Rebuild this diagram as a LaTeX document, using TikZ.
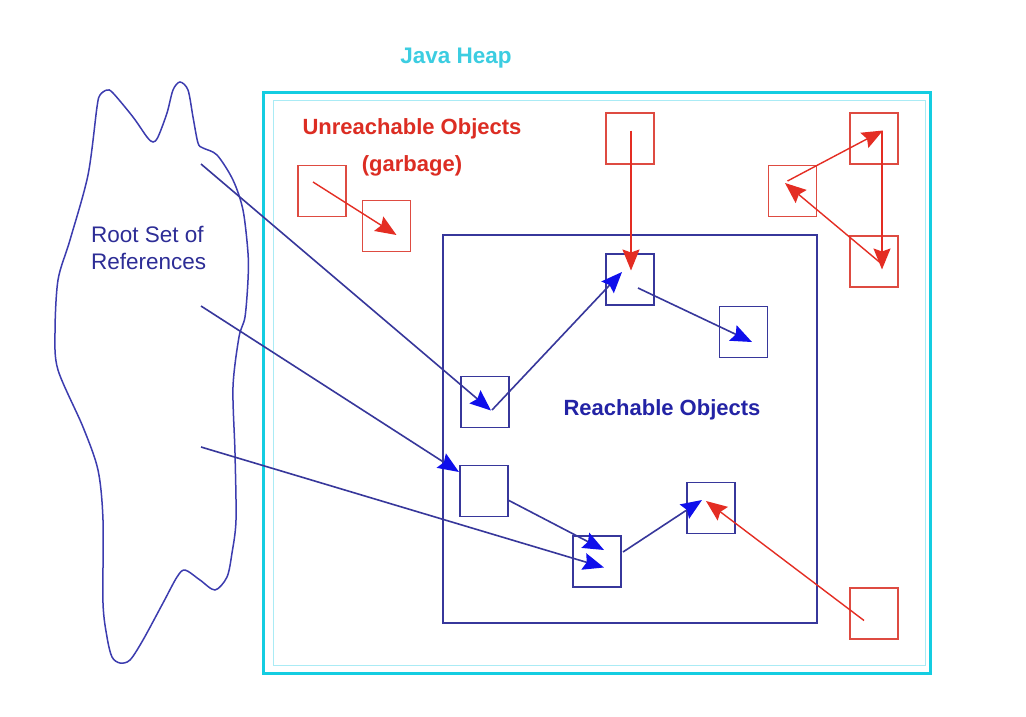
\documentclass[tikz,border=0pt]{standalone}
\usepackage{fontspec}
\setmainfont{Liberation Sans}
\usetikzlibrary{arrows.meta}
\definecolor{heapcyan}{RGB}{20,205,225}
\definecolor{heapghost}{RGB}{170,235,245}
\definecolor{heaptext}{RGB}{60,205,225}
\definecolor{gred}{RGB}{228,45,35}
\definecolor{boxred}{RGB}{222,75,65}
\definecolor{navy}{RGB}{55,55,155}
\definecolor{blobblue}{RGB}{60,60,175}
\definecolor{brightblue}{RGB}{15,15,235}
\definecolor{reachtext}{RGB}{35,35,165}
\definecolor{roottext}{RGB}{45,45,150}
\definecolor{garbtext}{RGB}{220,45,35}
\begin{document}
\begin{tikzpicture}[x=1pt,y=-1pt,
  obj/.style={draw, line width=1.8pt, minimum width=48pt, minimum height=51pt, inner sep=0pt},
  redobj/.style={obj, draw=boxred},
  blueobj/.style={obj, draw=navy},
  redarrow/.style={draw=gred, line width=1.4pt, -{Stealth[length=21pt,width=17pt,inset=3pt,color=gred]}},
  bluearrow/.style={draw=navy, line width=1.6pt, -{Stealth[length=21pt,width=17pt,inset=3pt,color=brightblue]}},
  lbl/.style={font=\fontsize{22}{25}\selectfont\bfseries, inner sep=0pt}
]
\useasboundingbox (0,0) rectangle (1026,716);
\fill[white] (0,0) rectangle (1026,716);

% Root set blob
\draw[blobblue, line width=1.5pt] plot[smooth cycle, tension=0.5] coordinates {
 (107,90) (113,93) (133,117) (147,137) (153,142) (158,137) (167,113) (173,90) (180,82)
 (188,90) (193,117) (198,143) (203,148) (217,155) (233,180) (243,210) (248,253) (248,280)
 (245,317) (239,337) (233,387) (235,453) (236,520) (232,553) (227,577) (215,590) (200,580)
 (185,570) (177,577) (163,603) (143,640) (130,660) (120,663) (112,657) (107,637) (103,603)
 (103,520) (98,470) (83,427) (58,370) (55,333) (58,280) (70,240) (88,175) (97,107) (100,95)};
\node[font=\fontsize{22.5}{27}\selectfont, text=roottext, align=left, anchor=west, inner sep=0pt] (root) at (91,248) {Root Set of\\References};
\coordinate (r1) at (201,164);
\coordinate (r2) at (201,306);
\coordinate (r3) at (201,447);

% Heap
\draw[heapghost, line width=1pt] (273,100) rectangle (925,665);
\node[draw=heapcyan, line width=3pt, minimum width=667pt, minimum height=581pt, inner sep=0pt] (heap) at (596.5,383) {};
\node[lbl, text=heaptext, font=\fontsize{22.5}{25}\selectfont\bfseries] (heaplbl) at (456,58) {Java Heap};

% Reachable region
\node[draw=navy, line width=1.8pt, minimum width=374pt, minimum height=388pt, inner sep=0pt] (reach) at (630,429) {};
\node[lbl, text=reachtext] (reachlbl) at (662,410) {Reachable Objects};

% Garbage labels
\node[lbl, text=garbtext, align=center, font=\fontsize{22}{37}\selectfont\bfseries] (garblbl) at (412,147) {Unreachable Objects\\(garbage)};

% Red boxes
\node[redobj] (g1) at (322,191) {};
\node[redobj] (g2) at (386.5,226) {};
\node[redobj] (rtop) at (630,138.5) {};
\node[redobj] (rt1) at (874,138.5) {};
\node[redobj] (rt2) at (792.5,191) {};
\node[redobj] (rt3) at (874,261.5) {};
\node[redobj] (rb) at (874,613.5) {};

% Blue boxes
\node[blueobj] (b1) at (630,279.5) {};
\node[blueobj] (b2) at (743.5,332) {};
\node[blueobj] (b3) at (485,402) {};
\node[blueobj] (b4) at (484,491) {};
\node[blueobj] (b5) at (597,561.5) {};
\node[blueobj] (b6) at (711,508) {};

% Red arrows
\draw[redarrow] ([shift={(-9,-9)}]g1.center) -- ([shift={(10,9)}]g2.center);
\draw[redarrow] ([shift={(1,-8)}]rtop.center) -- ([shift={(1,-9)}]b1.center);
\draw[redarrow] ([shift={(-5,-10)}]rt2.center) -- ([shift={(9,-8)}]rt1.center);
\draw[redarrow] ([shift={(8,-8)}]rt1.center) -- ([shift={(8,8)}]rt3.center);
\draw[redarrow] ([shift={(6,1)}]rt3.center) -- ([shift={(-7.5,-8)}]rt2.center);
\draw[redarrow] ([shift={(-10,7)}]rb.center) -- ([shift={(-5,-7)}]b6.center);

% Blue arrows
\draw[bluearrow] (r1) -- ([shift={(6,8.5)}]b3.center);
\draw[bluearrow] (r2) -- ([shift={(-25,-19)}]b4.center);
\draw[bluearrow] (r3) -- ([shift={(7,6)}]b5.center);
\draw[bluearrow] ([shift={(24,9)}]b4.center) -- ([shift={(7,-11.5)}]b5.center);
\draw[bluearrow] ([shift={(26,-9.5)}]b5.center) -- ([shift={(-9,-8)}]b6.center);
\draw[bluearrow] ([shift={(7,8)}]b3.center) -- ([shift={(-8,-7.5)}]b1.center);
\draw[bluearrow] ([shift={(8,8.5)}]b1.center) -- ([shift={(8.5,10)}]b2.center);
\end{tikzpicture}
\end{document}
